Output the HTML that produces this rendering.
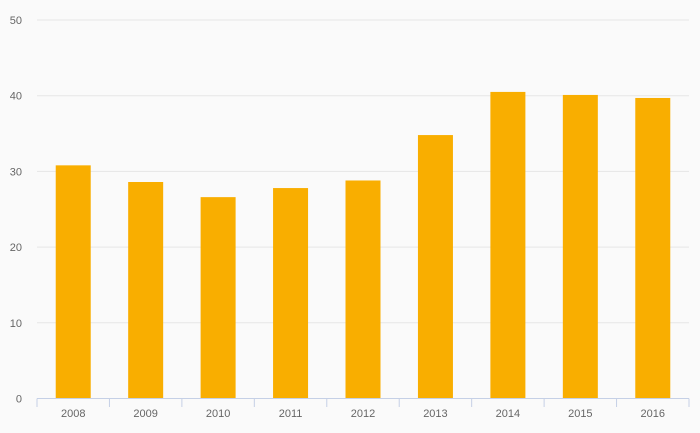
<!DOCTYPE html>
<html><head><meta charset="utf-8"><style>
body{margin:0;background:#fafafa;}
svg{display:block;font-family:"Liberation Sans",sans-serif;}
</style></head><body>
<svg id="chart" width="700" height="433"></svg>
<script>
const categories=["2008","2009","2010","2011","2012","2013","2014","2015","2016"];
const values=[30.8,28.6,26.6,27.8,28.8,34.8,40.5,40.1,39.7];
const yTicks=[0,10,20,30,40,50];
const NS="http://www.w3.org/2000/svg";
const svg=document.getElementById("chart");
const x0=37,x1=689,yBase=398.5,yTop=20,yMax=50;
const band=(x1-x0)/categories.length;
const y=v=>yBase-(v/yMax)*(yBase-yTop);
const xC=i=>x0+band*(i+0.5);
function mk(t,a){const e=document.createElementNS(NS,t);for(const k in a)e.setAttribute(k,a[k]);svg.appendChild(e);return e;}
yTicks.forEach(t=>{
  if(t>0){const g=mk("line",{x1:x0,x2:x1,y1:y(t),y2:y(t),stroke:"#e6e6e6","stroke-width":1});
  
  }
  const l=mk("text",{x:22,y:y(t)+4,"text-anchor":"end","font-size":11,fill:"#666"});
  l.textContent=t;
  
  
});
categories.forEach((c,i)=>{
  const b=mk("rect",{x:xC(i)-17.5,y:y(values[i]),width:35,height:yBase-y(values[i]),fill:"#f9ae00"});
  
  
  const l=mk("text",{x:xC(i),y:417,"text-anchor":"middle","font-size":11,fill:"#666"});
  l.textContent=c;
  
  
});
for(let i=0;i<=categories.length;i++){
  const t=mk("line",{x1:x0+band*i,x2:x0+band*i,y1:yBase,y2:407,stroke:"#c5d0e6","stroke-width":1});
  
  
}
const ax=mk("line",{x1:x0,x2:x1,y1:yBase,y2:yBase,stroke:"#c5d0e6","stroke-width":1});


</script>
</body></html>
